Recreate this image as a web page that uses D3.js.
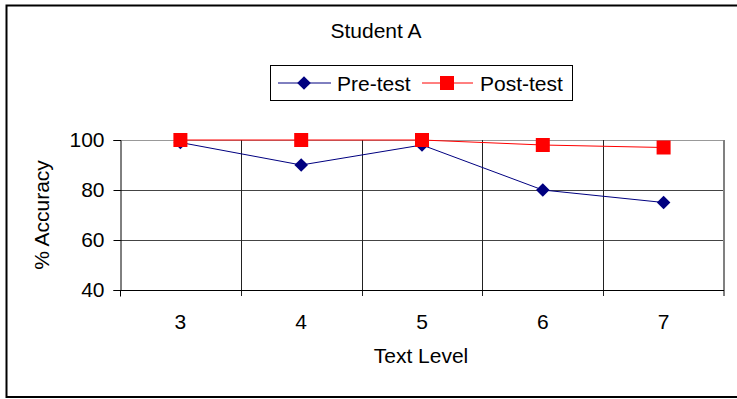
<!DOCTYPE html>
<html>
<head>
<meta charset="utf-8">
<script src="https://cdn.jsdelivr.net/npm/d3@7/dist/d3.min.js"></script>
<style>
  body { margin: 0; background: #fff; }
  svg { display: block; font-family: "Liberation Sans", Arial, sans-serif; }
</style>
</head>
<body>
<div id="chart"></div>
<script>
// chart data
const levels = ['3', '4', '5', '6', '7'];
const preTest = [99, 90, 98, 80, 75];
const postTest = [100, 100, 100, 98, 97];
const yTicks = [40, 60, 80, 100];

const width = 737, height = 399;
const plot = { left: 120, right: 724, top: 140, bottom: 290 };
const fontSize = 21;

const svg = d3.select('#chart').append('svg')
    .attr('width', width)
    .attr('height', height);

// outer frame
svg.append('rect')
    .attr('x', 6.5).attr('y', 5.5)
    .attr('width', 740).attr('height', 391.5)
    .attr('fill', 'none')
    .attr('stroke', '#000')
    .attr('stroke-width', 2);

const x = d3.scaleBand().domain(levels).range([plot.left, plot.right]);
const y = d3.scaleLinear().domain([40, 100]).range([plot.bottom, plot.top]);
const cx = l => x(l) + x.bandwidth() / 2;

// horizontal gridlines
svg.append('g')
    .selectAll('line')
    .data(yTicks.filter(d => d > 40))
    .enter()
    .append('line')
    .attr('x1', plot.left).attr('x2', plot.right)
    .attr('y1', d => y(d) + 0.5).attr('y2', d => y(d) + 0.5)
    .attr('stroke', d => d === 100 ? '#999' : '#444')
    .attr('stroke-width', 1);

// vertical gridlines at category boundaries
const bounds = levels.slice(1).map(l => x(l));
svg.append('g')
    .selectAll('line')
    .data(bounds)
    .enter()
    .append('line')
    .attr('x1', d => Math.round(d) + 0.5).attr('x2', d => Math.round(d) + 0.5)
    .attr('y1', plot.top).attr('y2', plot.bottom + 6)
    .attr('stroke', '#222')
    .attr('stroke-width', 1);

// right border of plot area
svg.append('line')
    .attr('x1', plot.right).attr('x2', plot.right)
    .attr('y1', plot.top).attr('y2', plot.bottom + 6)
    .attr('stroke', '#808080')
    .attr('stroke-width', 2);

// x axis
const xAxis = svg.append('g')
    .attr('transform', `translate(0,${plot.bottom + 0.5})`);
xAxis.append('line')
    .attr('x1', plot.left).attr('x2', plot.right)
    .attr('stroke', '#000');
xAxis.append('line')
    .attr('x1', plot.left + 0.5).attr('x2', plot.left + 0.5)
    .attr('y1', 0).attr('y2', 6)
    .attr('stroke', '#000');
xAxis.selectAll('text')
    .data(levels)
    .enter()
    .append('text')
    .attr('x', d => cx(d))
    .attr('y', 38)
    .attr('text-anchor', 'middle')
    .attr('font-size', fontSize)
    .text(d => d);

// y axis
const yAxis = svg.append('g')
    .attr('transform', `translate(${plot.left + 0.5},0)`)
    .call(d3.axisLeft(y).tickValues(yTicks).tickSize(7).tickPadding(9));
yAxis.select('.domain').attr('stroke', '#000');
yAxis.selectAll('.tick line').attr('stroke', '#000');
yAxis.selectAll('.tick text')
    .attr('font-size', fontSize)
    .attr('font-family', '"Liberation Sans", Arial, sans-serif')
    .attr('fill', '#000');

// titles
svg.append('text')
    .attr('x', 376).attr('y', 38)
    .attr('text-anchor', 'middle')
    .attr('font-size', fontSize)
    .text('Student A');

svg.append('text')
    .attr('x', 421).attr('y', 363)
    .attr('text-anchor', 'middle')
    .attr('font-size', fontSize)
    .text('Text Level');

svg.append('text')
    .attr('transform', 'translate(49,215) rotate(-90)')
    .attr('text-anchor', 'middle')
    .attr('font-size', fontSize)
    .text('% Accuracy');

// series
const line = d3.line()
    .x((d, i) => cx(levels[i]))
    .y(d => y(d));

const diamond = d3.symbol().type(d3.symbolDiamond2).size(118);

const pre = svg.append('g');
pre.append('path')
    .attr('d', line(preTest))
    .attr('fill', 'none')
    .attr('stroke', '#000080')
    .attr('stroke-width', 1);
pre.selectAll('path.mark')
    .data(preTest)
    .enter()
    .append('path')
    .attr('class', 'mark')
    .attr('d', diamond)
    .attr('transform', (d, i) => `translate(${cx(levels[i])},${y(d)})`)
    .attr('fill', '#000080');

const post = svg.append('g');
post.append('path')
    .attr('d', line(postTest))
    .attr('fill', 'none')
    .attr('stroke', '#ff0000')
    .attr('stroke-width', 1);
post.selectAll('rect')
    .data(postTest)
    .enter()
    .append('rect')
    .attr('x', (d, i) => cx(levels[i]) - 7)
    .attr('y', d => y(d) - 7)
    .attr('width', 14).attr('height', 14)
    .attr('fill', '#ff0000');

// legend
const legend = svg.append('g');
legend.append('rect')
    .attr('x', 270.5).attr('y', 65.5)
    .attr('width', 302).attr('height', 35)
    .attr('fill', '#fff')
    .attr('stroke', '#000')
    .attr('stroke-width', 1);

legend.append('line')
    .attr('x1', 278).attr('x2', 331).attr('y1', 83).attr('y2', 83)
    .attr('stroke', '#000080');
legend.append('path')
    .attr('d', diamond)
    .attr('transform', 'translate(304,83)')
    .attr('fill', '#000080');
legend.append('text')
    .attr('x', 337).attr('y', 91)
    .attr('font-size', fontSize)
    .text('Pre-test');

legend.append('line')
    .attr('x1', 422).attr('x2', 473).attr('y1', 83).attr('y2', 83)
    .attr('stroke', '#ff0000');
legend.append('rect')
    .attr('x', 440).attr('y', 76)
    .attr('width', 14).attr('height', 14)
    .attr('fill', '#ff0000');
legend.append('text')
    .attr('x', 480).attr('y', 91)
    .attr('font-size', fontSize)
    .text('Post-test');
</script>
</body>
</html>
